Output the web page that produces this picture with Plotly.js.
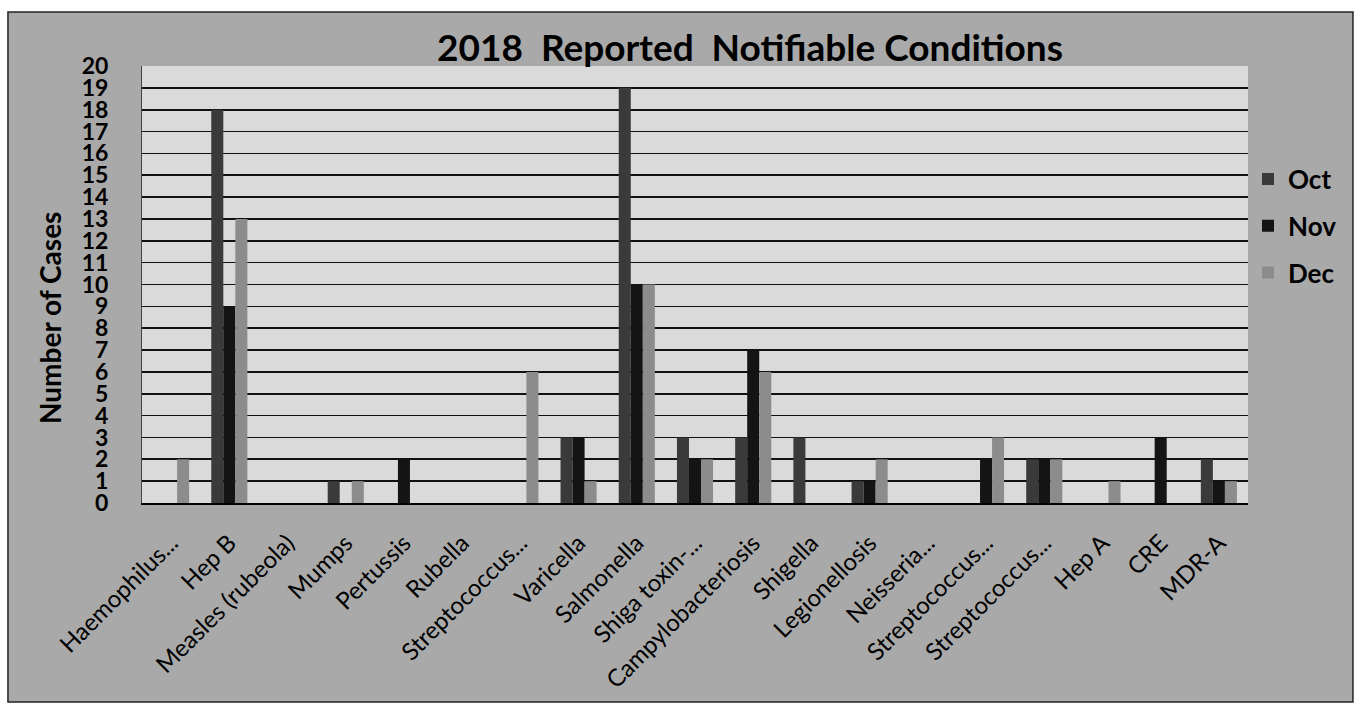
<!DOCTYPE html>
<html>
<head>
<meta charset="utf-8">
<script src="https://cdn.plot.ly/plotly-3.0.1.min.js"></script>
<style>
  html, body { margin: 0; padding: 0; background: #ffffff; }
  #chart { width: 1360px; height: 706px; }
</style>
</head>
<body>
<div id="chart"></div>
<script>
const categories = [
  "Haemophilus...", "Hep B", "Measles (rubeola)", "Mumps", "Pertussis", "Rubella",
  "Streptococcus...", "Varicella", "Salmonella", "Shiga toxin-...", "Campylobacteriosis",
  "Shigella", "Legionellosis", "Neisseria...", "Streptococcus...", "Streptococcus...",
  "Hep A", "CRE", "MDR-A"
];
const octValues = [0, 18, 0, 1, 0, 0, 0, 3, 19, 3, 3, 3, 1, 0, 0, 2, 0, 0, 2];
const novValues = [0, 9, 0, 0, 2, 0, 0, 3, 10, 2, 7, 0, 1, 0, 2, 2, 0, 3, 1];
const decValues = [2, 13, 0, 1, 0, 0, 6, 1, 10, 2, 6, 0, 2, 0, 3, 2, 1, 0, 1];
const yTickValues = [0,1,2,3,4,5,6,7,8,9,10,11,12,13,14,15,16,17,18,19,20];
const gridValues = [0,1,2,3,4,5,6,7,8,9,10,11,12,13,14,15,16,17,18,19];

const xPos = categories.map((c, i) => i);

const seriesDefs = [
  { name: "Oct", values: octValues, color: "#3a3a3a" },
  { name: "Nov", values: novValues, color: "#141414" },
  { name: "Dec", values: decValues, color: "#8c8c8c" }
];

const traces = seriesDefs.map(s => ({
  type: "bar",
  name: s.name,
  x: xPos,
  y: s.values,
  legendgroup: s.name,
  marker: { color: s.color, line: { width: 0 } },
  hoverinfo: "x+y+name"
}));

// invisible trace to carry the gridline axis
traces.push({
  type: "scatter", mode: "markers", x: [0], y: [0], yaxis: "y2",
  marker: { opacity: 0 }, showlegend: false, hoverinfo: "skip"
});

const layout = {
  width: 1360,
  height: 706,
  paper_bgcolor: "#ffffff",
  plot_bgcolor: "rgba(0,0,0,0)",
  margin: { l: 142, r: 112, t: 66, b: 203, autoexpand: false },
  font: { family: "Lato, 'Open Sans', sans-serif", color: "#000000" },
  title: {
    text: "2018  Reported  Notifiable Conditions",
    font: { family: "Lato, sans-serif", size: 37, color: "#000000", weight: "bold" },
    x: 0.5515, xanchor: "center",
    y: 0.932, yanchor: "middle"
  },
  barmode: "group",
  bargap: 0.38,
  bargroupgap: 0,
  showlegend: true,
  legend: {
    x: 1.0, xanchor: "left", xref: "paper",
    y: 0.795, yanchor: "top",
    bgcolor: "rgba(0,0,0,0)",
    font: { family: "Lato, sans-serif", size: 26, color: "#000000", weight: "bold" },
    traceorder: "grouped",
    tracegroupgap: 10,
    itemwidth: 30
  },
  xaxis: {
    range: [-0.5, categories.length - 0.5],
    tickmode: "array",
    tickvals: xPos,
    ticktext: categories,
    tickangle: -45,
    tickfont: { family: "Lato, sans-serif", size: 24, color: "#000000" },
    ticklabelstandoff: 15,
    showgrid: false,
    zeroline: false,
    showline: true,
    linecolor: "#000000",
    linewidth: 1.5,
    ticks: "",
    automargin: false,
    fixedrange: true
  },
  yaxis: {
    range: [0, 20],
    tickmode: "array",
    tickvals: yTickValues,
    ticktext: yTickValues.map(String),
    tickfont: { family: "Lato, sans-serif", size: 23, color: "#000000", weight: "bold" },
    showgrid: false,
    zeroline: false,
    showline: true,
    linecolor: "#444444",
    linewidth: 1,
    ticks: "",
    ticklabelstandoff: 28,
    automargin: false,
    fixedrange: true
  },
  yaxis2: {
    overlaying: "y",
    range: [0, 20],
    tickmode: "array",
    tickvals: gridValues,
    showticklabels: false,
    showgrid: true,
    gridcolor: "#111111",
    gridwidth: 1.6,
    zeroline: false,
    showline: false,
    ticks: "",
    fixedrange: true
  },
  annotations: [
    {
      text: "Number of Cases",
      xref: "paper", yref: "paper",
      x: -0.0832, y: 0.4233,
      xanchor: "center", yanchor: "middle",
      textangle: -90,
      showarrow: false,
      font: { family: "Lato, sans-serif", size: 28, color: "#000000", weight: "bold" }
    }
  ],
  shapes: [
    {
      type: "rect", xref: "paper", yref: "paper", layer: "below",
      x0: -0.1212, x1: 1.0949, y0: -0.4554, y1: 1.1236,
      fillcolor: "#a9a9a9", line: { color: "#222222", width: 1.5 }
    },
    {
      type: "rect", xref: "paper", yref: "paper", layer: "below",
      x0: 0, x1: 1, y0: 0, y1: 1,
      fillcolor: "#dadada", line: { width: 0 }
    }
  ]
};

Plotly.newPlot("chart", traces, layout, { displayModeBar: false, staticPlot: true });
</script>
</body>
</html>
